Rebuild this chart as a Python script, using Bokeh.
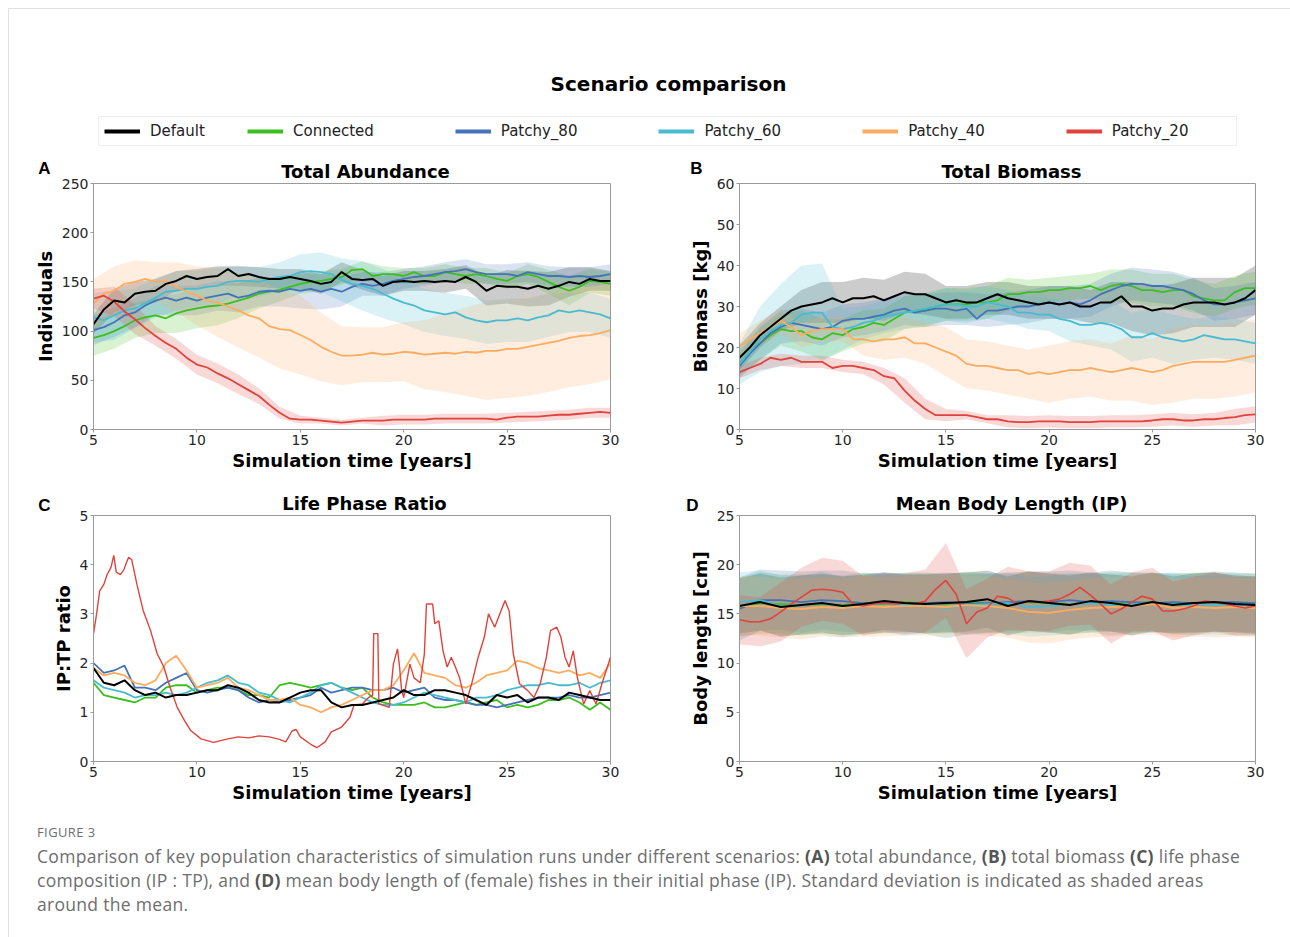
from bokeh.plotting import figure
from bokeh.models import Label, Legend, LegendItem, FixedTicker, Range1d, Div
from bokeh.layouts import column, row
from bokeh.embed import file_html
from bokeh.resources import INLINE

# ---------------- data ----------------
SCENARIOS = ["Default", "Connected", "Patchy_80", "Patchy_60", "Patchy_40", "Patchy_20"]
COLORS = ["#000000", "#3cbf1e", "#4473b9", "#47bcd0", "#fdac5f", "#e0433b"]
PANEL_TITLES = ["Total Abundance", "Total Biomass", "Life Phase Ratio", "Mean Body Length (IP)"]
PANEL_LETTERS = ["A", "B", "C", "D"]

t_half = [5 + 0.5 * i for i in range(51)]   # 5.0, 5.5, ... 30.0
t_year = [5 + i for i in range(26)]          # 5, 6, ... 30

# A: Total abundance (mean, half-year) and SD (yearly)
abund_default = [107,122,131,129,138,140,141,148,151,156,153,155,156,163,156,158,155,153,153,155,153,151,148,150,160,
                 153,152,153,146,150,151,150,151,150,151,150,155,150,141,146,145,145,143,146,143,146,150,148,153,151,151]
abund_connected = [93,96,100,105,111,114,116,113,118,121,123,125,126,128,131,134,138,140,142,145,148,150,151,153,155,
                   162,163,156,158,158,156,160,156,156,160,158,156,158,156,153,151,156,158,155,150,145,141,145,151,150,148]
abund_p80 = [101,104,109,116,119,126,131,134,131,134,131,134,136,138,134,136,140,141,140,143,141,143,140,143,140,
             145,148,146,148,151,153,155,156,158,160,161,163,160,158,158,158,156,160,158,156,156,155,156,155,156,158]
abund_p60 = [114,111,116,121,123,128,134,140,141,143,143,145,146,150,151,151,150,153,155,156,160,161,160,158,152,
             148,146,143,138,133,129,126,121,119,117,119,114,111,109,111,111,113,111,114,116,121,119,121,119,117,113]
abund_p40 = [128,138,141,148,150,153,150,151,145,140,136,131,129,125,121,116,113,105,102,101,96,91,84,79,75,
             75,76,78,76,77,79,78,76,77,78,77,79,78,80,80,82,82,84,86,88,90,93,95,96,98,101]
abund_p20 = [133,136,130,120,112,103,95,88,82,73,66,63,57,52,46,40,34,25,17,11,10,10,9,8,7,
             8,9,9,9,10,10,10,10,11,11,11,11,11,11,10,12,13,13,13,14,15,15,16,17,18,17]
abund_default_sd = [10,12,12,12,10,10,10,10,10,10,10,10,10,10,10,10,10,12,12,15,17,18,17,15,12,10]
abund_connected_sd = [18,18,18,18,20,20,20,18,15,12,10,10,8,8,8,8,8,8,8,8,8,10,12,15,12,12]
abund_p80_sd = [15,15,15,15,15,15,15,15,15,15,18,18,15,12,12,10,10,10,10,10,10,10,10,10,10,10]
abund_p60_sd = [25,25,20,20,20,18,18,15,15,15,18,20,22,25,25,22,22,22,22,22,22,22,22,20,20,20]
abund_p40_sd = [25,25,22,20,25,30,35,38,40,40,40,35,30,28,28,30,35,40,45,50,50,50,50,50,50,50]
abund_p20_sd = [10,15,15,10,10,10,10,10,8,6,4,3,3,3,5,5,5,5,5,5,5,5,5,5,5,5]

# B: Total biomass
bio_default = [17.5,20,23,25,27,29,30,30.5,31,32,31,32,32,32.5,31.5,32.5,33.5,33,33,32,31,31.5,31,31,32,
               33,32,31.5,31,30.5,31,30.5,31,30,30,31,31,32.5,30,30,29,29.5,29.5,30.5,31,31,31,30.5,31,32,34]
bio_connected = [16,19,21,23,24.5,24,24,22.5,22,23.5,23,24.5,25,26,25.5,27,28.5,29,29,30,30.5,30.5,30.5,31,31,
                 31.5,33,33,33.5,33.5,34,34,34.5,34.5,35,34,35,35.5,35,34,34,33.5,34,34,32.5,32,31.5,31.5,33.5,34.5,34.5]
bio_p80 = [15.5,18.5,21,23.5,25,26,25.5,25,24.5,25,26.5,27,27,27.5,28,29,29.5,28.5,29,29.5,29.5,29,29.5,27,29,
           29,29.5,30,30,30.5,31,30.5,31,30.5,31.5,33,34,35,35.5,35.5,35,35,34.5,34,33,31.5,30.5,30.5,31,31.5,32]
bio_p60 = [16,19,22,24,25.5,26,28,28.5,28.5,25,24.5,25,26,26.5,27.5,28,28.5,29,29.5,30,30.5,30.5,30,30,31,
           30.5,30,28.5,28.5,28,28,27,26.5,25.5,25.5,26,25.5,24.5,22.5,22.5,23.5,22.5,22,21.5,22,23,22.5,22,22,21.5,21]
bio_p40 = [20.5,22,23.5,25,26.5,25,23,24,24.5,24.5,24.5,22,22,21.5,22,22,22.5,21,21,20,19,18,16,15.5,15.5,
           15,14.5,14.5,13.5,14,13.5,14,14.5,14.5,15,14.5,14,14.5,15,14.5,14,14.5,15.5,16,16.5,16.5,16.5,16.5,17,17.5,18]
bio_p20 = [14,15,16,17.5,17,17.5,16.5,16.5,16.5,15,15.5,15.5,15,14.5,13,12.5,9.5,7,5,3.5,3.5,3.5,3.5,3,2.5,
           2.5,2,1.8,1.8,2,2,2,1.8,1.8,1.8,2,2,2,2,2,2.2,2.5,2.5,2.2,2.2,2.5,2.5,2.8,3,3.5,3.7]
bio_default_sd = [3,3,3,4,5,5,5,5,5,5,4,4,4,4,4,4,4,4,5,6,6,6,6,6,6,6]
bio_connected_sd = [3,4,4,5,5,4,4,4,4,4,4,4,4,4,3,3,3,3,4,4,4,4,4,4,4,4]
bio_p80_sd = [3,4,4,4,4,4,4,4,4,4,4,4,4,4,4,4,4,4,4,4,4,4,4,4,4,4]
bio_p60_sd = [5,8,10,12,12,5,4,4,4,4,4,4,4,4,4,4,5,5,6,6,6,6,5,5,5,5]
bio_p40_sd = [3,3,3,3,3,3,4,5,5,5,6,6,6,6,6,7,7,7,7,8,8,9,9,9,9,9]
bio_p20_sd = [1.5,1.5,1.5,1.5,1.5,1.5,1.5,2,3,2.5,1.5,1,1,1.5,1.5,1.5,1.5,1.5,1.5,1.5,1.5,1.5,1.5,1.5,2,2]

# C: Life phase ratio (IP:TP)
ratio_default = [1.9,1.6,1.55,1.65,1.45,1.35,1.4,1.3,1.35,1.35,1.4,1.45,1.45,1.55,1.5,1.4,1.25,1.2,1.2,1.3,1.4,
                 1.45,1.45,1.2,1.1,1.15,1.15,1.2,1.25,1.3,1.45,1.35,1.35,1.45,1.45,1.4,1.35,1.25,1.15,1.35,1.3,
                 1.35,1.2,1.3,1.3,1.25,1.4,1.35,1.3,1.25,1.25]
ratio_connected = [1.6,1.35,1.3,1.25,1.2,1.3,1.3,1.5,1.55,1.55,1.4,1.45,1.5,1.5,1.45,1.35,1.35,1.3,1.55,1.6,1.55,
                   1.5,1.55,1.6,1.5,1.45,1.5,1.3,1.2,1.15,1.15,1.15,1.2,1.1,1.1,1.15,1.2,1.15,1.2,1.25,1.1,
                   1.15,1.1,1.15,1.25,1.25,1.3,1.2,1.05,1.2,1.05]
ratio_p80 = [2.0,1.8,1.85,1.95,1.5,1.5,1.45,1.6,1.7,1.8,1.45,1.4,1.45,1.5,1.45,1.3,1.2,1.25,1.2,1.25,1.3,
             1.35,1.5,1.4,1.45,1.5,1.5,1.45,1.45,1.5,1.4,1.45,1.5,1.3,1.25,1.25,1.2,1.15,1.15,1.1,1.15,
             1.2,1.25,1.3,1.3,1.3,1.35,1.3,1.3,1.35,1.4]
ratio_p60 = [1.65,1.5,1.45,1.4,1.3,1.35,1.35,1.4,1.35,1.4,1.5,1.6,1.65,1.75,1.6,1.55,1.4,1.35,1.25,1.2,1.3,
             1.4,1.55,1.6,1.5,1.4,1.3,1.2,1.15,1.15,1.2,1.3,1.4,1.35,1.3,1.25,1.2,1.3,1.3,1.35,1.45,
             1.5,1.55,1.55,1.6,1.55,1.55,1.6,1.5,1.6,1.65]
ratio_p40 = [1.9,1.75,1.8,1.75,1.6,1.55,1.65,2.0,2.15,1.85,1.5,1.55,1.6,1.7,1.5,1.45,1.35,1.25,1.25,1.3,1.15,
             1.1,1.0,1.1,1.15,1.25,1.35,1.45,1.45,1.55,1.85,2.2,1.8,1.75,1.7,1.55,1.5,1.6,1.75,1.8,1.85,
             2.05,2.0,1.9,1.85,1.8,1.85,1.75,1.8,1.7,2.0]
ratio_p20_t = [5.0,5.15,5.3,5.5,5.66,5.85,5.98,6.1,6.3,6.47,6.6,6.7,6.85,7.1,7.4,7.76,8.08,8.4,8.7,9.05,9.4,9.7,
               10.2,10.8,11.5,12.0,12.5,13.0,13.5,14.0,14.3,14.6,14.8,15.0,15.5,15.8,16.2,16.5,17.0,17.4,17.6,
               18.0,18.3,18.5,18.55,18.75,18.8,19.3,19.5,19.7,19.8,19.9,20.0,20.3,20.5,20.8,21.0,21.1,21.4,
               21.5,21.7,21.9,22.1,22.3,22.5,22.7,23.0,23.3,23.6,23.9,24.1,24.4,24.7,24.9,25.1,25.3,25.6,26.0,
               26.3,26.6,26.9,27.1,27.4,27.6,27.8,28.0,28.2,28.4,28.7,29.0,29.3,29.6,30.0]
ratio_p20 = [2.6,3.0,3.47,3.6,3.8,3.95,4.19,3.85,3.8,3.9,4.05,4.15,4.1,3.6,3.07,2.66,2.19,1.92,1.51,1.1,0.83,0.63,
             0.46,0.39,0.46,0.5,0.48,0.52,0.5,0.45,0.4,0.62,0.65,0.5,0.35,0.28,0.4,0.6,0.7,0.9,1.15,
             1.17,1.3,1.35,2.6,2.6,1.17,1.1,1.98,2.29,1.92,1.44,1.3,1.98,1.7,1.6,2.19,3.2,3.2,
             2.8,2.86,2.25,1.92,2.12,1.92,1.7,1.17,1.6,2.12,2.53,3.0,2.73,3.06,3.27,3.06,2.19,1.58,1.44,
             1.3,1.58,2.12,2.66,2.73,2.53,2.12,1.92,2.25,1.7,1.17,1.44,1.17,1.6,2.12]

# D: Mean body length (IP); yearly means except Patchy_20 (half-year)
length_default = [15.8,16.2,15.7,15.9,16.1,15.8,16.0,16.3,16.1,16.0,16.1,16.2,16.5,15.8,16.3,16.1,15.9,16.3,16.1,15.8,16.2,15.9,16.1,16.2,16.0,15.9]
length_connected = [15.7,16.1,16.0,15.9,16.0,15.9,16.1,16.0,16.2,16.1,16.0,16.2,16.1,16.0,16.2,16.1,16.0,16.1,16.2,16.1,16.2,16.0,16.1,16.2,16.1,16.0]
length_p80 = [15.5,16.4,16.4,16.2,16.4,16.3,16.1,16.2,16.0,16.1,16.2,16.0,16.1,16.2,16.3,16.2,16.4,16.2,16.3,16.2,16.1,16.2,16.1,16.2,16.2,16.1]
length_p60 = [16.2,16.4,15.8,15.9,16.1,15.7,15.9,16.1,15.9,16.0,15.6,15.9,16.0,16.1,15.7,15.8,16.0,16.1,15.9,16.0,16.1,16.0,15.8,15.9,15.9,15.8]
length_p40 = [15.8,15.8,15.6,15.5,15.7,15.6,15.8,15.7,15.8,15.8,15.7,15.9,15.8,15.6,15.2,15.1,15.4,15.6,15.7,15.8,16.0,15.6,15.7,15.6,15.7,15.6]
length_p20 = [14.4,14.2,14.2,14.5,15.2,16.0,16.7,17.4,17.5,17.4,17.2,16.0,15.8,16.0,16.1,16.0,16.1,16.0,16.3,17.5,18.4,
              17.0,14.0,15.2,15.6,16.8,16.6,16.0,16.3,16.2,16.3,16.5,17.0,17.7,16.9,16.0,15.0,15.5,16.2,16.8,16.5,
              15.3,15.3,15.5,15.8,16.3,16.2,16.0,15.8,15.6,15.8]
length_default_sd = [2.8,2.9,3.0,3.0,3.0,3.0,3.0,2.9,2.9,3.0,3.0,3.0,2.9,3.0,3.0,3.0,3.0,2.9,2.9,3.0,3.0,2.9,3.0,3.0,2.9,2.9]
length_connected_sd = [3.0,3.1,3.0,3.1,3.0,3.0,3.1,3.0,3.0,3.1,3.0,3.1,3.0,3.0,3.1,3.0,3.1,3.0,3.0,3.1,3.0,3.0,3.1,3.0,3.0,3.1]
length_p80_sd = [3.2,3.1,3.0,3.1,3.0,3.1,3.0,3.0,3.1,3.0,3.0,3.1,3.0,3.0,3.0,3.1,3.0,3.0,3.1,3.0,3.0,3.0,3.0,3.1,3.0,3.0]
length_p60_sd = [3.0,3.0,3.1,3.0,3.2,3.1,3.0,3.0,3.1,3.0,3.1,3.0,3.0,3.1,3.0,3.0,3.1,3.0,3.1,3.0,3.0,3.1,3.0,3.0,3.1,3.0]
length_p40_sd = [3.0,3.0,3.0,3.1,3.0,3.0,3.1,3.0,3.0,3.0,3.1,3.0,3.0,3.0,3.1,3.1,3.0,3.0,3.0,3.0,3.1,3.0,3.0,3.0,3.0,3.0]
length_p20_sd = [2.5,2.5,3.0,3.0,3.2,3.2,3.0,3.0,3.0,3.2,3.8,3.5,3.0,3.2,3.0,3.0,3.2,3.0,3.0,3.0,3.2,3.0,3.0,3.0,3.0,3.0]

X_TICKS = [5, 10, 15, 20, 25, 30]

# ---------------- helpers ----------------
AX_COLOR = "#9a9a9a"
FONT = "DejaVu Sans"
CARD = "#e2e2e2"
OVERLAP = 8   # panel canvases slide up under the title strips (transparent border area)


def make_panel(ylabel, ymax, yticks, width, lb, rb, series):
    p = figure(width=width, height=304, x_range=Range1d(5, 30), y_range=Range1d(0, ymax),
               output_backend="svg", toolbar_location=None,
               min_border_left=lb, min_border_right=rb, min_border_top=9, min_border_bottom=49)
    p.background_fill_color = "white"
    p.border_fill_color = None
    p.outline_line_color = AX_COLOR
    p.outline_line_width = 1
    p.xgrid.visible = False
    p.ygrid.visible = False
    p.xaxis.ticker = FixedTicker(ticks=X_TICKS)
    p.yaxis.ticker = FixedTicker(ticks=yticks)
    p.xaxis.axis_label = "Simulation time [years]"
    p.yaxis.axis_label = ylabel
    for ax in (p.xaxis[0], p.yaxis[0]):
        ax.axis_line_color = AX_COLOR
        ax.major_tick_line_color = AX_COLOR
        ax.major_tick_out = 3
        ax.major_tick_in = 0
        ax.minor_tick_out = 0
        ax.minor_tick_in = 0
        ax.major_label_standoff = 2
        ax.major_label_text_font = FONT
        ax.major_label_text_font_size = "14px"
        ax.major_label_text_color = "#262626"
        ax.axis_label_text_font = FONT
        ax.axis_label_text_font_style = "bold"
        ax.axis_label_text_font_size = "18px"
        ax.axis_label_text_color = "#000000"
    p.xaxis.axis_label_standoff = 2
    p.yaxis.axis_label_standoff = 3

    for (tm, m, ts, sd, color, lw) in series:
        if sd is None:
            continue
        step = 2 if len(m) == 51 else 1
        mm = m[::step]
        p.varea(x=ts, y1=[a - b for a, b in zip(mm, sd)], y2=[a + b for a, b in zip(mm, sd)],
                fill_color=color, fill_alpha=0.2)
    order = list(range(1, len(series))) + [0]
    for i in order:
        tm, m, ts, sd, color, lw = series[i]
        p.line(x=tm, y=m, line_color=color, line_width=lw)
    return p


def blank_strip(width, height):
    s = figure(width=width, height=height, x_range=Range1d(0, 1), y_range=Range1d(0, 1),
               output_backend="svg", toolbar_location=None, x_axis_type=None, y_axis_type=None,
               min_border=0)
    s.outline_line_color = None
    s.xgrid.visible = False
    s.ygrid.visible = False
    s.background_fill_color = None
    s.border_fill_color = None
    return s


def add_text(fig, x, y, text, size, font=FONT, style="bold", color="#000000"):
    fig.add_layout(Label(x=x, y=y, x_units="screen", y_units="screen", text=text,
                         text_font=font, text_font_style=style, text_font_size=size,
                         text_align="center", text_baseline="middle", text_color=color))


sA = [(t_half, abund_default, t_year, abund_default_sd, COLORS[0], 2),
      (t_half, abund_connected, t_year, abund_connected_sd, COLORS[1], 1.8),
      (t_half, abund_p80, t_year, abund_p80_sd, COLORS[2], 1.8),
      (t_half, abund_p60, t_year, abund_p60_sd, COLORS[3], 1.8),
      (t_half, abund_p40, t_year, abund_p40_sd, COLORS[4], 1.8),
      (t_half, abund_p20, t_year, abund_p20_sd, COLORS[5], 1.8)]
sB = [(t_half, bio_default, t_year, bio_default_sd, COLORS[0], 2),
      (t_half, bio_connected, t_year, bio_connected_sd, COLORS[1], 1.8),
      (t_half, bio_p80, t_year, bio_p80_sd, COLORS[2], 1.8),
      (t_half, bio_p60, t_year, bio_p60_sd, COLORS[3], 1.8),
      (t_half, bio_p40, t_year, bio_p40_sd, COLORS[4], 1.8),
      (t_half, bio_p20, t_year, bio_p20_sd, COLORS[5], 1.8)]
sC = [(t_half, ratio_default, None, None, COLORS[0], 2),
      (t_half, ratio_connected, None, None, COLORS[1], 1.8),
      (t_half, ratio_p80, None, None, COLORS[2], 1.8),
      (t_half, ratio_p60, None, None, COLORS[3], 1.8),
      (t_half, ratio_p40, None, None, COLORS[4], 1.8),
      (ratio_p20_t, ratio_p20, None, None, COLORS[5], 1.4)]
sD = [(t_year, length_default, t_year, length_default_sd, COLORS[0], 2),
      (t_year, length_connected, t_year, length_connected_sd, COLORS[1], 1.8),
      (t_year, length_p80, t_year, length_p80_sd, COLORS[2], 1.8),
      (t_year, length_p60, t_year, length_p60_sd, COLORS[3], 1.8),
      (t_year, length_p40, t_year, length_p40_sd, COLORS[4], 1.8),
      (t_half, length_p20, t_year, length_p20_sd, COLORS[5], 1.6)]

pA = make_panel("Individuals", 250, [0, 50, 100, 150, 200, 250], 653, 93, 43, sA)
pB = make_panel("Biomass [kg]", 60, [0, 10, 20, 30, 40, 50, 60], 637, 86, 35, sB)
pC = make_panel("IP:TP ratio", 5, [0, 1, 2, 3, 4, 5], 653, 93, 43, sC)
pD = make_panel("Body length [cm]", 25, [0, 5, 10, 15, 20, 25], 637, 86, 35, sD)

# ---------------- header: suptitle, legend, row-1 panel titles ----------------
HDR_H = 182
hdr = blank_strip(1290, HDR_H)
add_text(hdr, 668, HDR_H - 83, "Scenario comparison", "20px")
add_text(hdr, 365, HDR_H - 171, PANEL_TITLES[0], "18px")
add_text(hdr, 1011, HDR_H - 171, PANEL_TITLES[1], "18px")
add_text(hdr, 44, HDR_H - 168, PANEL_LETTERS[0], "17px", font="Liberation Sans")
add_text(hdr, 696, HDR_H - 168, PANEL_LETTERS[1], "17px", font="Liberation Sans")

# legend swatches reuse the abundance series; they fall outside the strip's 0..1 range
swatches = []
for name, color, ys in zip(SCENARIOS, COLORS, [abund_default, abund_connected, abund_p80,
                                                abund_p60, abund_p40, abund_p20]):
    r = hdr.line(x=t_half, y=ys, line_color=color, line_width=4)
    swatches.append(LegendItem(label=name, renderers=[r]))
LEG_KW = dict(orientation="horizontal", glyph_width=36, glyph_height=16, label_standoff=10,
              padding=5, margin=0, label_text_font=FONT, label_text_font_size="15px",
              label_text_color="#222222")
# framed legend holding the first entry; its label area spans the whole legend row
legend_first = Legend(items=swatches[:1], location=(98, HDR_H - 146), label_width=1081,
                      border_line_color="#dddddd", border_line_width=1,
                      background_fill_color="white", background_fill_alpha=1, **LEG_KW)
# remaining entries, laid over the same frame
legend_rest = Legend(items=swatches[1:], location=(247, HDR_H - 140), spacing=81,
                     border_line_color=None, background_fill_alpha=0, **LEG_KW)
hdr.add_layout(legend_first)
hdr.add_layout(legend_rest)

# ---------------- strip between rows: row-2 panel titles ----------------
MID_TOP = 478
MID_H = 37
mid = blank_strip(1290, MID_H)
add_text(mid, 364, MID_TOP + MID_H - 503, PANEL_TITLES[2], "18px")
add_text(mid, 1011, MID_TOP + MID_H - 503, PANEL_TITLES[3], "18px")
add_text(mid, 44, MID_TOP + MID_H - 505, PANEL_LETTERS[2], "17px", font="Liberation Sans")
add_text(mid, 692, MID_TOP + MID_H - 505, PANEL_LETTERS[3], "17px", font="Liberation Sans")

# ---------------- caption ----------------
B = '<b style="font-weight:700;color:#555555">'
caption_html = (
    '<div style="font-family:\'Open Sans\',sans-serif;color:#6e6e6e;padding-left:32px;padding-top:9px;white-space:nowrap;">'
    '<div style="font-size:13px;line-height:16px;letter-spacing:0.4px;">FIGURE 3</div>'
    '<div style="font-size:17.5px;line-height:24px;margin-top:4px;letter-spacing:0.3px;">'
    'Comparison of key population characteristics of simulation runs under different scenarios: '
    + B + '(A)</b> total abundance, ' + B + '(B)</b> total biomass ' + B + '(C)</b> life phase<br>'
    'composition (IP : TP), and ' + B + '(D)</b> mean body length of (female) fishes in their '
    'initial phase (IP). Standard deviation is indicated as shaded areas<br>'
    'around the mean.</div></div>'
)
cap = Div(text=caption_html, width=1290, height=125)

row1 = row(pA, pB, spacing=0, margin=(-OVERLAP, 0, 0, 0))
row2 = row(pC, pD, spacing=0, margin=(-(OVERLAP + 1), 0, 0, 0))
card_lines = {
    "background": ("linear-gradient(%s,%s) 8px 8px / 1px calc(100%% - 8px) no-repeat, "
                   "linear-gradient(%s,%s) 8px 8px / calc(100%% - 8px) 1px no-repeat, white")
                  % (CARD, CARD, CARD, CARD),
}
layout = column(hdr, row1, mid, row2, cap, spacing=0, styles=card_lines)

open("out.html", "w").write(file_html(layout, INLINE))
